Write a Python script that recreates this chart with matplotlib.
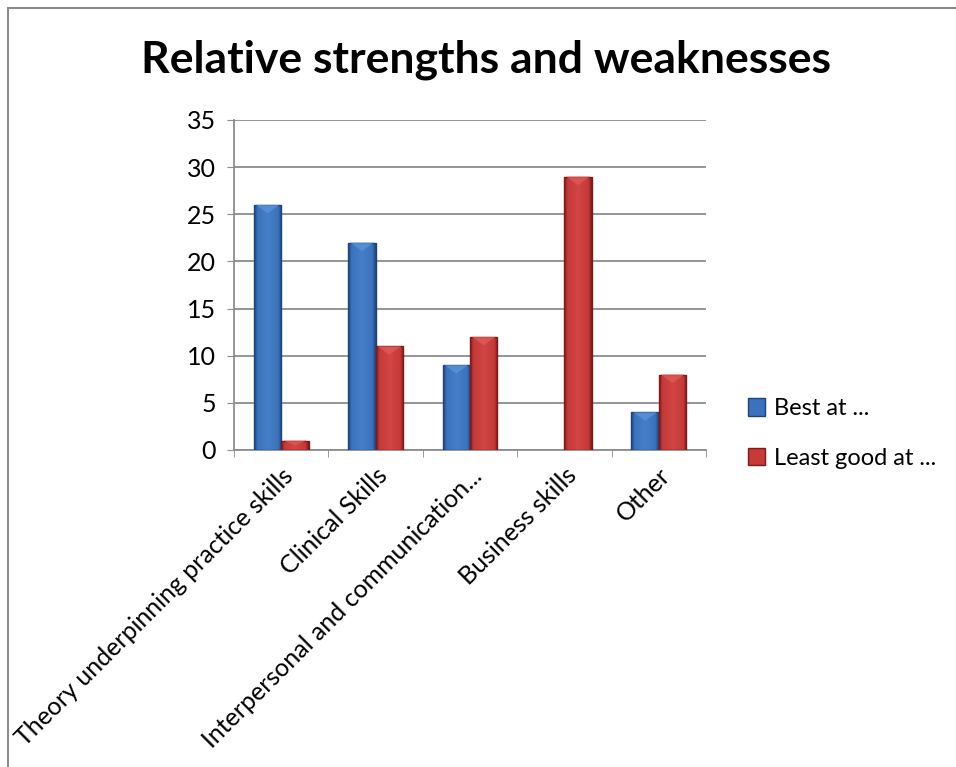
import numpy as np
import matplotlib.pyplot as plt
from matplotlib.patches import Rectangle, Polygon
from matplotlib.colors import LinearSegmentedColormap

plt.rcParams['font.family'] = ['Lato', 'DejaVu Sans']

categories = ["Theory underpinning practice skills", "Clinical Skills",
              "Interpersonal and communication...", "Business skills", "Other"]
best_at = [26, 22, 9, 0, 4]
least_good_at = [1, 11, 12, 29, 8]
series_names = ["Best at ...", "Least good at ..."]

# light / mid / dark shades for the bevelled bars
blue = ("#5b93d8", "#3a72bd", "#1d4478")
red = ("#e05a57", "#c63a38", "#7e1a1a")


def blend(c1, c2, t):
    a = np.array([int(c1[i:i + 2], 16) for i in (1, 3, 5)])
    b = np.array([int(c2[i:i + 2], 16) for i in (1, 3, 5)])
    return "#%02x%02x%02x" % tuple((a * (1 - t) + b * t).astype(int))


def bevel_bar(ax, x, w, h, shades):
    if h <= 0:
        return
    light, mid, dark = shades
    cmap = LinearSegmentedColormap.from_list(
        "b", [(0, dark), (0.12, mid), (0.5, blend(mid, light, 0.4)), (0.88, mid), (1, dark)])
    grad = np.linspace(0, 1, 64).reshape(1, -1)
    im = ax.imshow(grad, cmap=cmap, extent=(x, x + w, 0, h), aspect="auto",
                   origin="lower", zorder=3, interpolation="bicubic")
    rect = Rectangle((x, 0), w, h, facecolor="none", edgecolor=dark, lw=1.0, zorder=4)
    ax.add_patch(rect)
    im.set_clip_path(rect)
    # small lighter chevron at the top of the bar
    dy = min(0.9, h * 0.5)
    tri = Polygon([(x + 0.02, h), (x + w - 0.02, h), (x + w / 2, h - dy)],
                  closed=True, facecolor=light, edgecolor="none", alpha=0.8, zorder=4)
    ax.add_patch(tri)


fig = plt.figure(figsize=(9.56, 7.67), dpi=100)
ax = fig.add_axes([0.2448, 0.4133, 0.4937, 0.4303])

width = 0.29
xs = np.arange(len(categories))
for i in xs:
    bevel_bar(ax, i - width, width, best_at[i], blue)
    bevel_bar(ax, i, width, least_good_at[i], red)

ax.set_xlim(-0.5, len(categories) - 0.5)
ax.set_ylim(0, 35)
ax.set_yticks(range(0, 36, 5))
ax.yaxis.grid(True, color="#8c8c8c", lw=1.3)
ax.set_axisbelow(True)
for s in ["top", "right"]:
    ax.spines[s].set_visible(False)
ax.spines["left"].set_color("#8c8c8c")
ax.spines["bottom"].set_color("#8c8c8c")
ax.spines["left"].set_linewidth(1.3)
ax.spines["bottom"].set_linewidth(1.3)
ax.tick_params(axis="y", length=5, color="#8c8c8c", labelsize=18, pad=8)
ax.set_xticks(xs)
ax.set_xticklabels(categories, rotation=45, ha="right", rotation_mode="anchor", fontsize=18)
ax.tick_params(axis="x", length=0, pad=10)
ax.set_xticks(np.arange(-0.5, len(categories)), minor=True)
ax.tick_params(axis="x", which="minor", length=5, color="#8c8c8c")

fig.text(0.508, 0.922, "Relative strengths and weaknesses", ha="center", va="center",
         fontsize=32, fontweight="bold")

# legend
handles = [Rectangle((0, 0), 1, 1, facecolor=blue[1], edgecolor=blue[2]),
           Rectangle((0, 0), 1, 1, facecolor=red[1], edgecolor=red[2])]
fig.legend(handles, series_names, loc="center left", bbox_to_anchor=(0.782, 0.435),
           frameon=False, fontsize=17, handlelength=0.75, handleheight=0.75,
           handletextpad=0.35, labelspacing=1.2, borderpad=0, borderaxespad=0)

# outer chart border
fig.add_artist(Rectangle((8 / 956, -0.1), 1.2, 1 - 8 / 767 + 0.1, transform=fig.transFigure,
                         facecolor="none", edgecolor="#8c8c8c", lw=1.5))

fig.savefig("out.png", dpi=100)
